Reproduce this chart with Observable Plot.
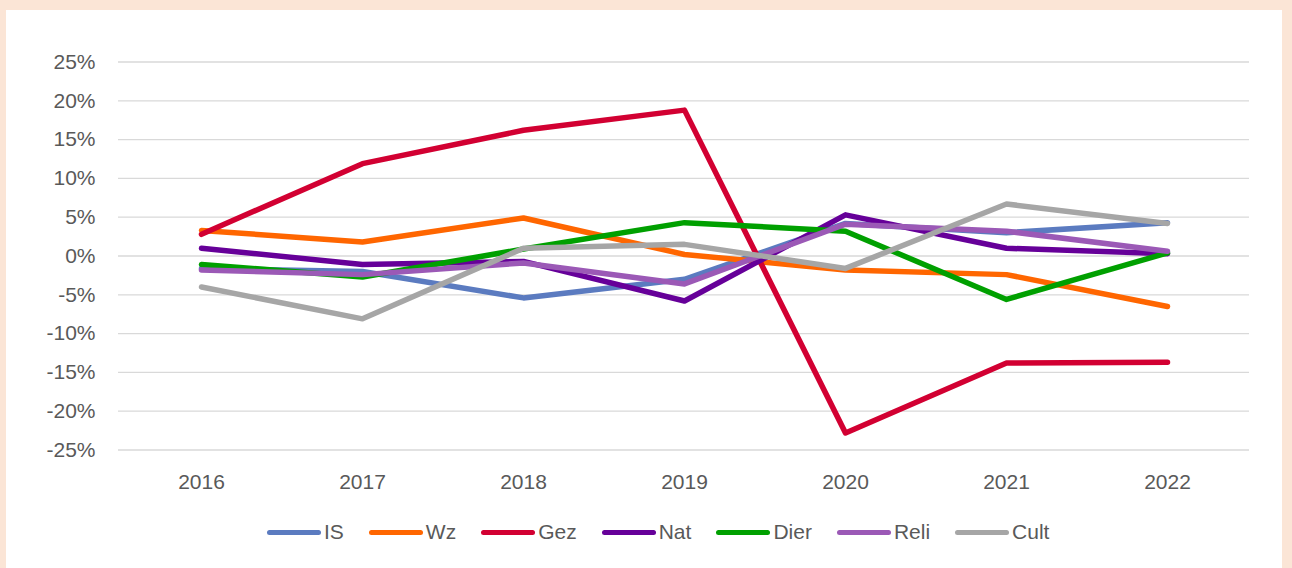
<!DOCTYPE html>
<html><head><meta charset="utf-8">
<script src="https://cdn.jsdelivr.net/npm/d3@7"></script>
<script src="https://cdn.jsdelivr.net/npm/@observablehq/plot@0.6"></script>
<style>
body{margin:0;background:#FBE5D6;width:1292px;height:568px;overflow:hidden;font-family:"Liberation Sans",Arial,sans-serif}
#panel{position:absolute;left:6px;top:10px;width:1276px;height:558px;background:#fff}
#chart{position:absolute;left:0;top:0}
#legend{position:absolute;left:261px;top:508px;height:28px;display:flex;align-items:center;font-size:21px;color:#595959;white-space:nowrap}
.item{display:flex;align-items:center;margin-right:25px}
.sw{width:54px;height:5px;border-radius:3px;margin-right:3px}
</style></head><body>
<div id="panel"><div id="chart"></div><div id="legend"></div></div>
<script>
const years = ["2016","2017","2018","2019","2020","2021","2022"];
const seriesNames = ["IS","Wz","Gez","Nat","Dier","Reli","Cult"];
const seriesColors = ["#5B7BC0","#FF6600","#D20032","#660099","#00A000","#9B59B6","#A6A6A6"];
const IS   = [-1.6, -2.0, -5.4, -3.0,   4.2,   3.0,   4.3];
const Wz   = [ 3.3,  1.8,  4.9,  0.2,  -1.8,  -2.4,  -6.5];
const Gez  = [ 2.8, 11.9, 16.2, 18.8, -22.8, -13.8, -13.7];
const Nat  = [ 1.0, -1.1, -0.7, -5.8,   5.3,   1.0,   0.3];
const Dier = [-1.1, -2.7,  0.9,  4.3,   3.2,  -5.6,   0.4];
const Reli = [-1.8, -2.4, -0.9, -3.6,   4.1,   3.2,   0.6];
const Cult = [-4.0, -8.1,  1.0,  1.5,  -1.6,   6.7,   4.2];
const yTicks = [-25,-20,-15,-10,-5,0,5,10,15,20,25];

const seriesValues = [IS, Wz, Gez, Nat, Dier, Reli, Cult];
const data = [];
seriesNames.forEach((s, i) => years.forEach((y, j) => data.push({series: s, year: y, value: seriesValues[i][j]})));

const chart = Plot.plot({
  width: 1276,
  height: 490,
  marginLeft: 112,
  marginRight: 33,
  marginTop: 51.5,
  marginBottom: 50.5,
  style: {fontFamily: '"Liberation Sans", Arial, sans-serif', fontSize: "21px", color: "#595959", background: "transparent"},
  x: {type: "point", domain: years, padding: 0.5},
  y: {domain: [-25, 25]},
  color: {domain: seriesNames, range: seriesColors},
  marks: [
    Plot.ruleY(yTicks, {stroke: "#D9D9D9", strokeWidth: 1.3}),
    Plot.axisY({ticks: yTicks, tickSize: 0, tickPadding: 23, tickFormat: d => d + "%", label: null, fill: "#595959"}),
    Plot.axisX({tickSize: 0, tickPadding: 24, label: null, fill: "#595959"}),
    Plot.line(data, {x: "year", y: "value", z: "series", stroke: "series", strokeWidth: 5.5, strokeLinecap: "round", strokeLinejoin: "round"})
  ]
});
document.getElementById("chart").appendChild(chart);

const legend = document.getElementById("legend");
seriesNames.forEach((s, i) => {
  const item = document.createElement("div");
  item.className = "item";
  const sw = document.createElement("div");
  sw.className = "sw";
  sw.style.background = seriesColors[i];
  const t = document.createElement("span");
  t.textContent = s;
  item.appendChild(sw);
  item.appendChild(t);
  legend.appendChild(item);
});
</script>
</body></html>
